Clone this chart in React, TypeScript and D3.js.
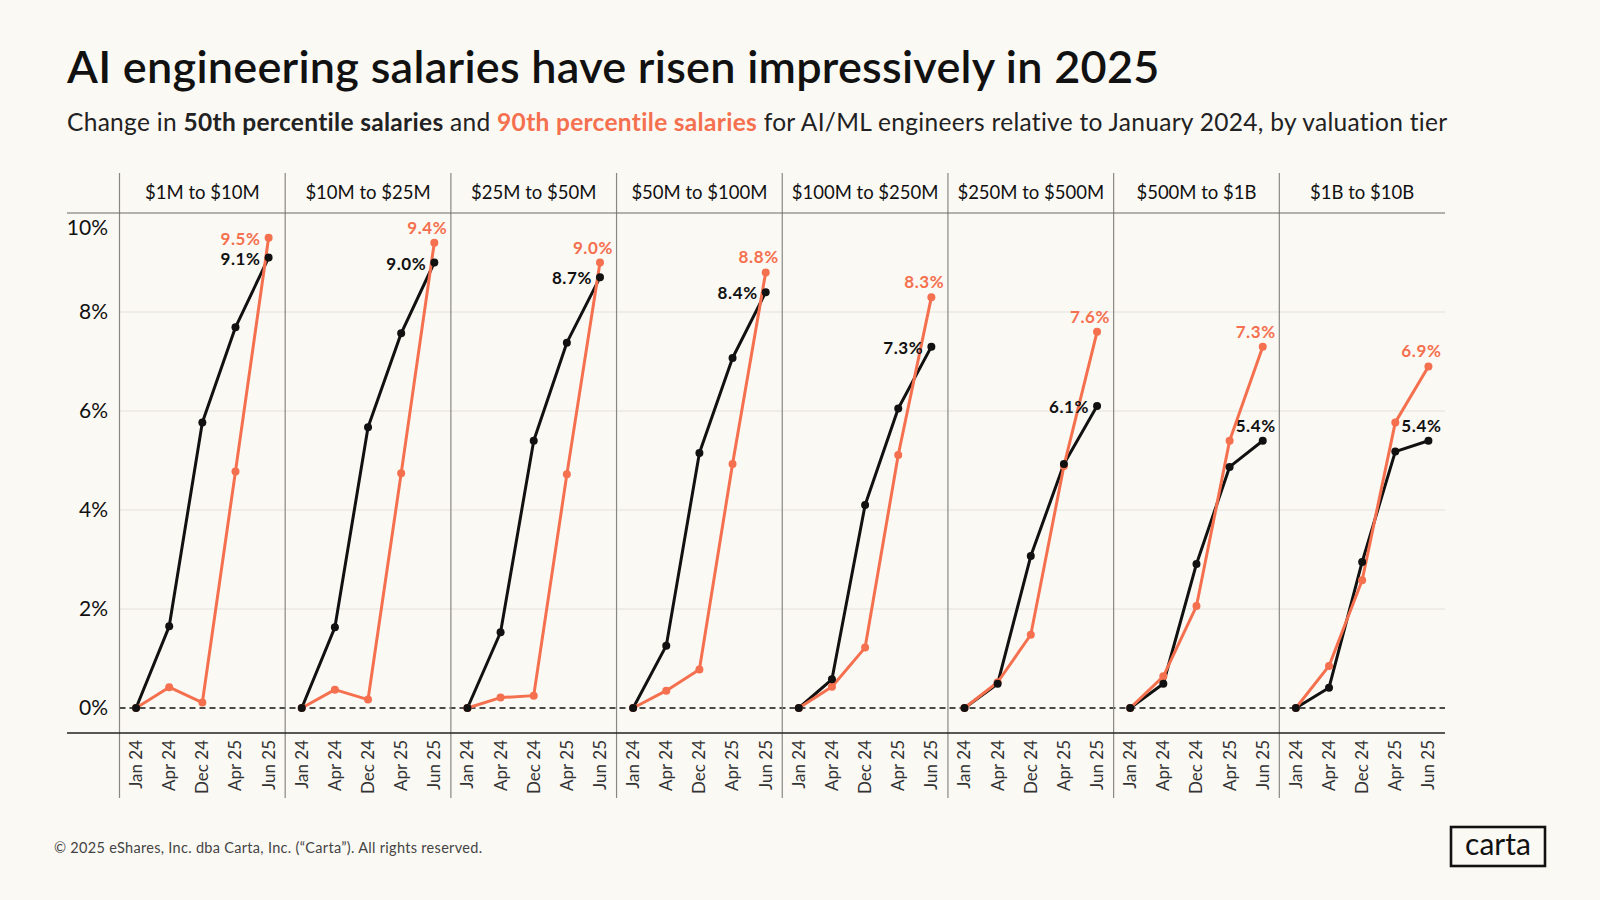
import { useRef, useEffect } from "react";
import * as d3 from "d3";

const tiers = [
  "$1M to $10M",
  "$10M to $25M",
  "$25M to $50M",
  "$50M to $100M",
  "$100M to $250M",
  "$250M to $500M",
  "$500M to $1B",
  "$1B to $10B",
];
const periods = ["Jan 24", "Apr 24", "Dec 24", "Apr 25", "Jun 25"];

// 50th percentile change (%), one row per tier
const p50 = [
  [0, 1.65, 5.77, 7.69, 9.1],
  [0, 1.63, 5.67, 7.57, 9.0],
  [0, 1.53, 5.4, 7.38, 8.7],
  [0, 1.26, 5.15, 7.07, 8.4],
  [0, 0.58, 4.1, 6.05, 7.3],
  [0, 0.49, 3.07, 4.93, 6.1],
  [0, 0.49, 2.91, 4.87, 5.4],
  [0, 0.41, 2.95, 5.18, 5.4],
];
// 90th percentile change (%)
const p90 = [
  [0, 0.42, 0.11, 4.78, 9.5],
  [0, 0.37, 0.17, 4.74, 9.4],
  [0, 0.21, 0.25, 4.72, 9.0],
  [0, 0.35, 0.78, 4.93, 8.8],
  [0, 0.43, 1.22, 5.11, 8.3],
  [0, 0.52, 1.48, 4.89, 7.6],
  [0, 0.64, 2.06, 5.4, 7.3],
  [0, 0.85, 2.58, 5.77, 6.9],
];
// where the end label sits relative to the last point
const p50LabelSide = ["left", "left", "left", "left", "left", "left", "above", "above"];
const p90LabelSide = ["left", "above", "above", "above", "above", "above", "above", "above"];

const yTicks = [0, 2, 4, 6, 8, 10];

const W = 1600;
const H = 900;
const FONT = "Lato, 'Noto Sans', sans-serif";
const ORANGE = "#f4704f";
const INK = "#111111";
const BG = "#fbf9f4";

const PLOT = { left: 119.5, right: 1445, headTop: 173, headBottom: 213, zero: 708, axisBottom: 733, divBottom: 798 };

export default function App() {
  const svgRef = useRef<SVGSVGElement>(null);

  useEffect(() => {
    if (!svgRef.current) return;
    const svg = d3.select(svgRef.current);
    svg.selectAll("*").remove();

    svg.append("rect").attr("width", W).attr("height", H).attr("fill", BG);

    // Title + subtitle
    svg.append("text")
      .attr("x", 67).attr("y", 83)
      .attr("font-family", FONT).attr("font-size", 45).attr("font-weight", 600)
      .attr("letter-spacing", 0.26)
      .attr("fill", INK)
      .text("AI engineering salaries have risen impressively in 2025");

    const sub = svg.append("text")
      .attr("x", 67).attr("y", 131)
      .attr("font-family", FONT).attr("font-size", 24.5).attr("font-weight", 400)
      .attr("letter-spacing", 0.3)
      .attr("fill", "#222");
    sub.append("tspan").text("Change in ");
    sub.append("tspan").attr("font-weight", 700).text("50th percentile salaries");
    sub.append("tspan").text(" and ");
    sub.append("tspan").attr("font-weight", 700).attr("fill", ORANGE).text("90th percentile salaries");
    sub.append("tspan").text(" for AI/ML engineers relative to January 2024, by valuation tier");

    // Scales
    const xPanel = d3.scaleBand<string>().domain(tiers).range([PLOT.left, PLOT.right]);
    const panelW = xPanel.bandwidth();
    const xPt = d3.scalePoint<string>().domain(periods).range([0, panelW]).padding(0.5);
    const y = d3.scaleLinear().domain([0, 10]).range([PLOT.zero, PLOT.headBottom]);

    // Gridlines
    svg.append("g")
      .selectAll("line")
      .data(yTicks.filter((t) => t > 0 && t < 10))
      .join("line")
      .attr("x1", PLOT.left).attr("x2", PLOT.right)
      .attr("y1", (d) => y(d)).attr("y2", (d) => y(d))
      .attr("stroke", "#e4e1da").attr("stroke-width", 1);

    // Zero line
    svg.append("line")
      .attr("x1", PLOT.left).attr("x2", PLOT.right)
      .attr("y1", y(0)).attr("y2", y(0))
      .attr("stroke", INK).attr("stroke-width", 1.3).attr("stroke-dasharray", "6,4");

    // Panel dividers
    svg.append("g")
      .selectAll("line")
      .data(tiers)
      .join("line")
      .attr("x1", (d) => xPanel(d)!).attr("x2", (d) => xPanel(d)!)
      .attr("y1", PLOT.headTop).attr("y2", PLOT.divBottom)
      .attr("stroke", "#8a8884").attr("stroke-width", 1.2);

    // Header and bottom rules
    svg.append("line")
      .attr("x1", 67).attr("x2", PLOT.right)
      .attr("y1", PLOT.headBottom).attr("y2", PLOT.headBottom)
      .attr("stroke", "#6d6b67").attr("stroke-width", 1.2);
    svg.append("line")
      .attr("x1", 67).attr("x2", PLOT.right)
      .attr("y1", PLOT.axisBottom).attr("y2", PLOT.axisBottom)
      .attr("stroke", "#222").attr("stroke-width", 1.6);

    // Y labels
    svg.append("g")
      .selectAll("text")
      .data(yTicks)
      .join("text")
      .attr("x", 108)
      .attr("y", (d) => Math.max(y(d), PLOT.headBottom + 15))
      .attr("dy", "0.35em")
      .attr("text-anchor", "end")
      .attr("font-family", FONT).attr("font-size", 21)
      .attr("fill", INK)
      .text((d) => `${d}%`);

    // Panels
    tiers.forEach((tier, i) => {
      const g = svg.append("g").attr("transform", `translate(${xPanel(tier)},0)`);

      g.append("text")
        .attr("x", panelW / 2).attr("y", 193).attr("dy", "0.35em")
        .attr("text-anchor", "middle")
        .attr("font-family", FONT).attr("font-size", 18.5).attr("font-weight", 400)
        .attr("fill", INK)
        .text(tier);

      g.selectAll("text.tick")
        .data(periods)
        .join("text")
        .attr("class", "tick")
        .attr("transform", (d) => `translate(${xPt(d)},740) rotate(-90)`)
        .attr("dy", "0.35em")
        .attr("text-anchor", "end")
        .attr("font-family", FONT).attr("font-size", 17).attr("font-weight", 400)
        .attr("fill", "#333")
        .text((d) => d);

      const line = d3.line<number>()
        .x((_, j) => xPt(periods[j])!)
        .y((d) => y(d));

      g.append("path").datum(p50[i]).attr("d", line)
        .attr("fill", "none").attr("stroke", INK).attr("stroke-width", 3).attr("stroke-linejoin", "round");
      g.append("path").datum(p90[i]).attr("d", line)
        .attr("fill", "none").attr("stroke", ORANGE).attr("stroke-width", 3).attr("stroke-linejoin", "round");

      const dots = (vals: number[], color: string) =>
        g.append("g").selectAll("circle").data(vals).join("circle")
          .attr("cx", (_, j) => xPt(periods[j])!)
          .attr("cy", (d) => y(d))
          .attr("r", 4)
          .attr("fill", color);
      dots(p90[i], ORANGE);
      dots(p50[i], INK);

      const last = periods.length - 1;
      const endLabel = (vals: number[], color: string, side: string) => {
        const px = xPt(periods[last])!;
        const py = y(vals[last]);
        g.append("text")
          .attr("x", side === "above" ? px + 13 : px - 8)
          .attr("y", side === "above" ? py - 9 : py + 7)
          .attr("text-anchor", "end")
          .attr("font-family", FONT).attr("font-size", 17).attr("font-weight", 700)
          .attr("letter-spacing", 0.6)
          .attr("fill", color)
          .text(`${vals[last].toFixed(1)}%`);
      };
      endLabel(p90[i], ORANGE, p90LabelSide[i]);
      endLabel(p50[i], INK, p50LabelSide[i]);
    });

    // Footer
    svg.append("text")
      .attr("x", 54).attr("y", 853)
      .attr("font-family", FONT).attr("font-size", 14.5)
      .attr("letter-spacing", 0.3)
      .attr("fill", "#444")
      .text("© 2025 eShares, Inc. dba Carta, Inc. (“Carta”). All rights reserved.");

    // Logo
    svg.append("rect")
      .attr("x", 1451).attr("y", 827).attr("width", 94).attr("height", 39)
      .attr("fill", "none").attr("stroke", INK).attr("stroke-width", 2.6);
    svg.append("text")
      .attr("x", 1498).attr("y", 855)
      .attr("text-anchor", "middle")
      .attr("font-family", FONT).attr("font-size", 30).attr("font-weight", 400)
      .attr("fill", INK)
      .text("carta");
  }, []);

  return (
    <svg
      ref={svgRef}
      width={W}
      height={H}
      viewBox={`0 0 ${W} ${H}`}
      style={{ position: "absolute", left: 0, top: 0 }}
    />
  );
}
